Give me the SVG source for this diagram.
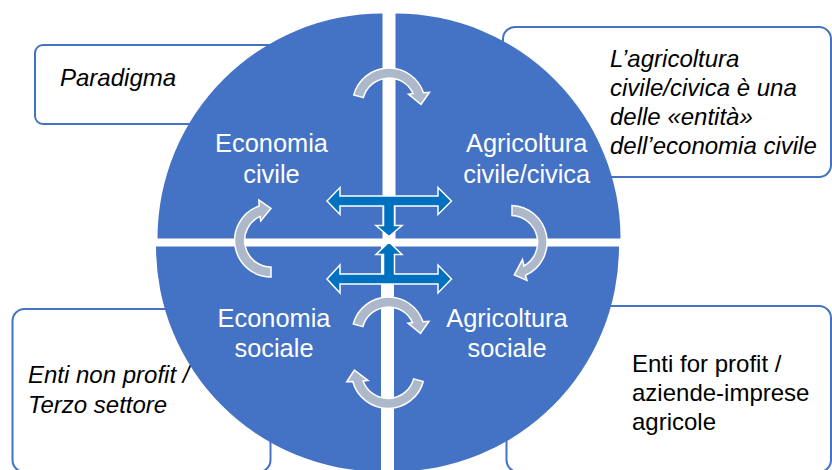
<svg xmlns="http://www.w3.org/2000/svg" width="832" height="470" viewBox="0 0 832 470">
<style>
.box{fill:#fff;stroke:#4472C4;stroke-width:2}
.bt{font-family:"Liberation Sans",Arial,sans-serif;font-size:24px;fill:#000}
.it{font-style:italic}
.q{fill:#4472C4}
.qt{font-family:"Liberation Sans",Arial,sans-serif;font-size:25.4px;fill:#fff;text-anchor:middle}
.ca{fill:#ADB9CA;stroke:#fff;stroke-width:1.5;stroke-linejoin:miter}
.ba{fill:#0070C0;stroke:#fff;stroke-width:1.5;stroke-linejoin:miter}
</style>
<rect width="832" height="470" fill="#fff"/>
<g id="box-paradigma">
<rect class="box" x="35" y="45" width="295" height="79" rx="8"/>
<text class="bt it" x="60" y="86">Paradigma</text>
</g>
<g id="box-agricoltura-civica">
<rect class="box" x="503" y="27" width="328" height="150" rx="12"/>
<text class="bt it" x="610" y="67">L’agricoltura</text>
<text class="bt it" x="610" y="96">civile/civica è una</text>
<text class="bt it" x="610" y="125">delle «entità»</text>
<text class="bt it" x="610" y="154">dell’economia civile</text>
</g>
<g id="box-non-profit">
<rect class="box" x="12.5" y="309" width="258" height="163" rx="12"/>
<text class="bt it" x="28" y="383">Enti non profit /</text>
<text class="bt it" x="28" y="413">Terzo settore</text>
</g>
<g id="box-for-profit">
<rect class="box" x="506.5" y="306" width="324.5" height="166" rx="12"/>
<text class="bt" x="632" y="372">Enti for profit /</text>
<text class="bt" x="632" y="401">aziende-imprese</text>
<text class="bt" x="632" y="430">agricole</text>
</g>
<g id="q-economia-civile">
<path class="q" d="M382.5,238.5 L157.5,238.5 A225,225 0 0 1 382.5,13.5 Z"/>
<text class="qt" x="271.5" y="152">Economia</text>
<text class="qt" x="271.5" y="182.5">civile</text>
</g>
<g id="q-agricoltura-civile">
<path class="q" d="M395.5,238.5 L395.5,13.5 A225,225 0 0 1 620.5,238.5 Z"/>
<text class="qt" x="526.7" y="152">Agricoltura</text>
<text class="qt" x="526.7" y="182.5">civile/civica</text>
</g>
<g id="q-economia-sociale">
<path class="q" d="M381,246.5 L381,471.5 A225,225 0 0 1 156,246.5 Z"/>
<text class="qt" x="274" y="327">Economia</text>
<text class="qt" x="274" y="357">sociale</text>
</g>
<g id="q-agricoltura-sociale">
<path class="q" d="M394,246.5 L619,246.5 A225,225 0 0 1 394,471.5 Z"/>
<text class="qt" x="507" y="327">Agricoltura</text>
<text class="qt" x="507" y="357">sociale</text>
</g>
<g id="connectors">
<path class="ca" d="M353.74,95.05 A36.5,36.5 0 0 1 423.5,92.7 L429.5,92.3 L421,104.5 L408.5,94.2 L413.1,93.6 A26.5,26.5 0 0 0 363.4,97.64 Z"/>
<path class="ca" d="M271,277 A36.5,36.5 0 0 1 259.2,206 L258.8,200 L271,208.5 L260.7,221 L260.1,216.4 A26.5,26.5 0 0 0 271,267 Z"/>
<path class="ca" d="M512,205.5 A36.5,36.5 0 0 1 525.5,275.3 L527,280.5 L514.3,274.9 L522.5,259.5 L523.9,266 A27,27 0 0 0 512,215.5 Z"/>
<path class="ca" d="M353.24,324.05 A36.5,36.5 0 0 1 423,321.7 L429,321.3 L420.5,333.5 L408,323.2 L412.6,322.6 A26.5,26.5 0 0 0 362.9,326.64 Z"/>
<path class="ca" d="M423.26,381.45 A36.5,36.5 0 0 1 352.8,381.5 L346.8,381.8 L354.4,370.2 L368,380.5 L363.1,381 A26.5,26.5 0 0 0 413.6,378.86 Z"/>
<polygon class="ba" points="327,201 340,187.5 340,196 438,196 438,187.5 451.5,201 438,214.5 438,206 394.5,206 394.5,225.5 402,225.5 389,236.5 376,225.5 383.5,225.5 383.5,206 340,206 340,214.5"/>
<polygon class="ba" points="327,279 340,265 340,274 383.5,274 383.5,254.5 376,254.5 389,242 402,254.5 394.5,254.5 394.5,274 438,274 438,265 451.5,279 438,293 438,284 340,284 340,293"/>
</g>
</svg>
